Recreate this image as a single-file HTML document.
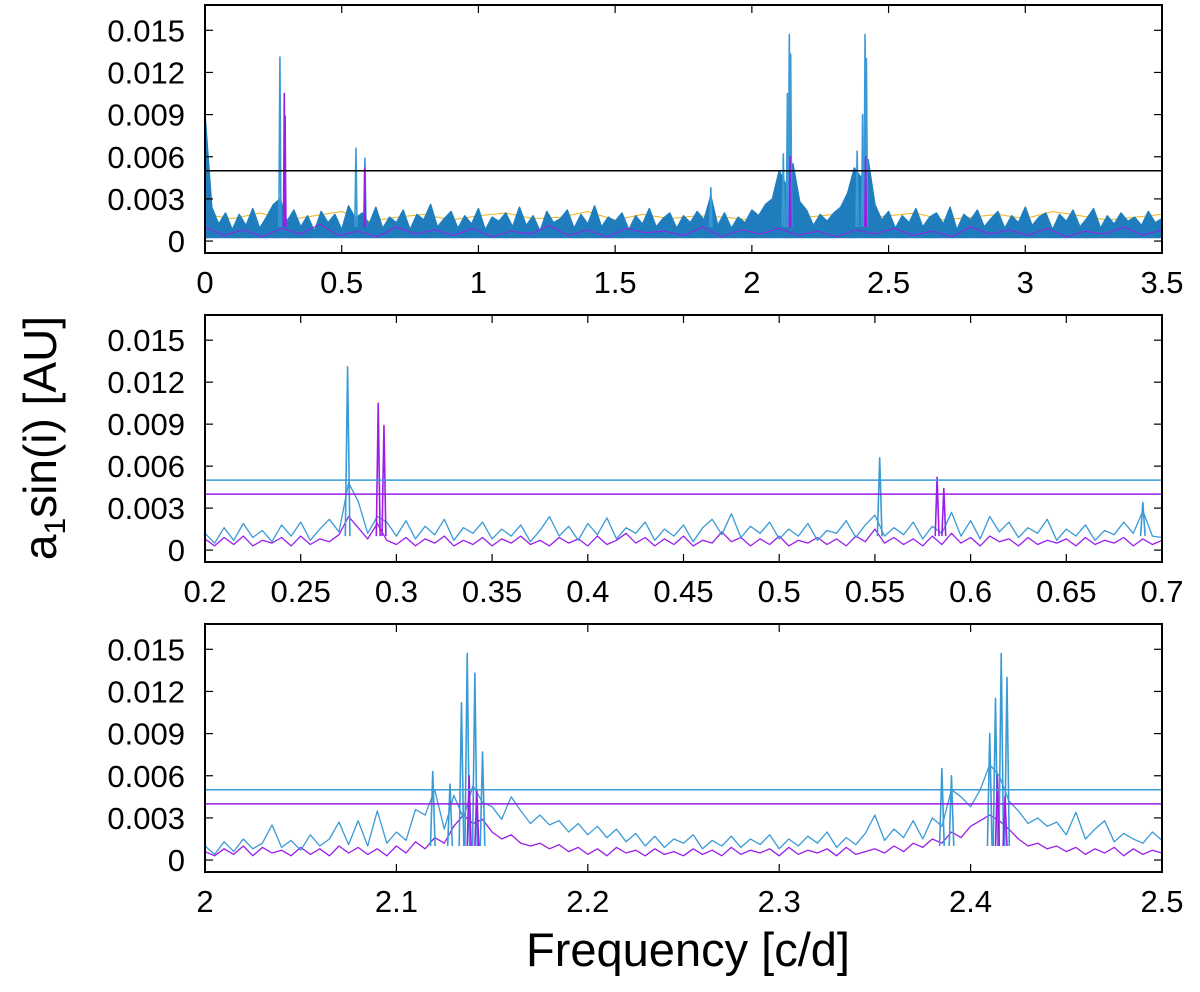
<!DOCTYPE html>
<html><head><meta charset="utf-8">
<style>
html,body{margin:0;padding:0;background:#fff;}
svg{display:block;font-family:"Liberation Sans",sans-serif;}
</style></head>
<body>
<svg id="chart" width="1200" height="992" viewBox="0 0 1200 992" xmlns="http://www.w3.org/2000/svg">
<text transform="translate(56,438) rotate(-90)" text-anchor="middle" font-size="46">a<tspan font-size="30" dy="9">1</tspan><tspan dy="-9">sin(i) [AU]</tspan></text>
<text x="688" y="966" text-anchor="middle" font-size="47">Frequency [c/d]</text>
</svg>
<script>
// y values in units of 1e-3 AU
const yTickValues=[0,3,6,9,12,15];
const yTickLabels=["0","0.003","0.006","0.009","0.012","0.015"];

// Panel 1 (0 - 3.5)
const p1TickValues=[0,0.5,1,1.5,2,2.5,3,3.5];
const p1TickLabels=["0","0.5","1","1.5","2","2.5","3","3.5"];
const p1Threshold=[5.0];
const p1BlueNoise=[9.0,2.4,1.2,2.0,0.8,1.9,1.1,2.3,0.9,1.7,2.6,3.0,1.4,2.2,1.0,1.8,0.7,2.1,1.3,1.9,0.8,2.5,1.6,2.0,1.2,2.4,0.9,1.7,1.3,2.2,0.8,1.9,1.5,2.6,1.0,1.6,2.1,0.9,1.8,1.2,2.3,0.8,1.7,1.4,2.0,1.0,2.4,1.1,1.8,0.7,2.1,1.3,1.6,2.2,0.9,1.9,1.2,2.5,1.0,1.7,1.4,2.0,0.8,1.8,1.2,2.3,1.0,1.6,2.0,0.9,1.8,1.3,2.1,1.5,3.2,1.1,2.0,0.9,1.7,1.3,2.2,1.8,2.6,3.0,5.0,4.0,5.5,2.8,2.2,1.1,1.9,1.4,2.0,2.4,3.4,5.2,4.5,5.8,2.6,1.5,2.1,0.9,1.8,1.3,2.3,1.0,1.7,2.0,1.2,2.4,0.8,1.9,1.5,2.2,1.0,1.6,2.1,0.9,1.8,1.3,2.4,1.1,1.7,2.0,0.8,1.9,1.4,2.2,1.0,1.6,2.3,0.9,1.8,1.2,2.0,1.4,1.7,1.1,2.1,1.3,1.6];
const p1OrangeNoise=[1.9,1.6,2.0,1.5,1.8,2.1,1.4,1.7,1.9,1.5,1.8,2.0,1.6,1.7,2.1,1.5,1.9,1.6,1.8,1.7,1.5,2.0,1.7,1.9,1.6,1.8,2.0,1.5,1.7,1.9,1.6,2.1,1.8,1.5,1.7,1.9];
const p1PurpleNoise=[1.0,0.4,0.8,0.3,0.9,0.5,1.2,0.4,0.7,0.3,1.0,0.5,0.8,0.4,0.9,0.3,0.7,0.5,1.1,0.4,0.8,0.3,0.9,0.6,0.7,0.4,1.0,0.3,0.8,0.5,0.9,0.4,0.7,0.3,0.8,0.5,0.9,0.4,0.7,0.3,1.0,0.5,0.8,0.4,0.9,0.3,0.7,0.5,1.0,0.4,0.8];
const p1BluePeakFreq=[0.274,0.552,0.585,1.85,2.115,2.13,2.137,2.142,2.385,2.405,2.414,2.419];
const p1BluePeakAmp=[13.1,6.6,5.9,3.8,6.2,10.5,14.7,13.3,6.4,9.0,14.7,13.0];
const p1PurplePeakFreq=[0.29,0.293,0.584,2.14,2.416];
const p1PurplePeakAmp=[10.5,8.9,5.2,6.0,6.0];

// Panel 2 (0.2 - 0.7)
const p2TickValues=[0.2,0.25,0.3,0.35,0.4,0.45,0.5,0.55,0.6,0.65,0.7];
const p2TickLabels=["0.2","0.25","0.3","0.35","0.4","0.45","0.5","0.55","0.6","0.65","0.7"];
const p2Thresholds=[5.0,4.0];
const p2BlueNoise=[1.2,0.5,1.6,0.7,1.9,0.9,1.4,0.6,1.8,1.0,2.0,0.7,1.5,2.2,1.3,4.8,3.5,1.2,2.4,2.0,1.0,2.1,0.8,1.7,1.1,2.2,0.7,1.6,1.2,2.0,0.8,1.5,1.0,1.8,0.6,1.4,2.4,1.0,1.7,0.7,1.9,1.1,2.3,0.8,1.6,1.2,2.0,0.7,1.5,1.0,1.8,0.6,1.6,2.2,1.1,2.6,0.9,1.7,1.2,2.0,0.8,1.5,1.0,1.9,0.7,1.4,1.2,2.1,0.9,1.8,2.5,1.0,1.6,1.1,2.0,0.8,1.7,1.2,2.7,1.0,2.1,0.8,2.4,1.3,2.0,0.9,1.6,1.2,2.2,0.7,1.5,1.0,1.8,0.7,1.4,1.1,2.0,1.2,2.8,1.0,0.9];
const p2PurpleNoise=[0.8,0.3,0.9,0.4,1.0,0.3,0.7,0.5,0.9,0.3,1.0,0.4,0.8,0.6,1.1,2.4,1.6,0.8,1.9,0.7,0.4,0.9,0.3,0.8,0.5,1.0,0.3,0.7,0.4,0.9,0.3,0.8,0.5,1.0,0.4,0.7,0.3,0.9,0.5,0.8,0.3,1.0,0.4,0.7,1.2,0.5,0.9,0.3,0.8,0.4,1.0,0.3,0.7,0.5,1.3,0.6,0.9,0.3,0.8,0.4,1.0,0.3,0.7,0.5,0.9,0.4,0.8,0.3,1.0,0.6,1.5,0.5,0.9,0.4,0.8,0.3,1.0,0.4,1.2,0.5,0.9,0.3,1.0,0.6,0.8,0.3,0.9,0.4,0.7,0.5,0.8,0.3,0.9,0.4,0.7,0.5,0.9,0.3,0.8,0.4,0.7];
const p2BluePeakFreq=[0.2745,0.5525,0.69];
const p2BluePeakAmp=[13.1,6.6,3.4];
const p2PurplePeakFreq=[0.2905,0.2935,0.5825,0.586];
const p2PurplePeakAmp=[10.5,8.9,5.2,4.4];

// Panel 3 (2.0 - 2.5)
const p3TickValues=[2.0,2.1,2.2,2.3,2.4,2.5];
const p3TickLabels=["2","2.1","2.2","2.3","2.4","2.5"];
const p3Thresholds=[5.0,4.0];
const p3BlueNoise=[1.0,0.4,1.3,0.6,1.5,0.8,1.2,2.5,0.9,1.4,
0.7,1.8,1.0,1.5,2.7,1.1,2.8,1.0,3.5,1.2,
2.0,1.4,3.6,3.2,5.0,2.2,4.6,3.0,5.3,4.1,
3.8,2.9,4.5,3.5,2.6,3.2,2.5,2.8,2.0,2.6,
1.8,2.4,1.6,2.2,1.3,1.9,1.0,1.7,0.9,1.5,
1.2,1.8,0.8,1.4,1.0,1.7,0.9,1.5,1.1,1.8,
0.8,1.5,1.0,1.7,1.2,2.0,0.9,1.6,1.1,1.9,
3.2,1.4,2.2,1.6,2.8,1.5,3.0,2.4,5.0,4.5,
3.8,5.0,6.8,6.0,4.2,3.5,2.6,3.0,2.4,2.7,
1.8,3.4,1.5,2.2,2.8,1.3,1.9,1.5,1.2,2.0,
1.4];
const p3PurpleNoise=[0.6,0.3,0.8,0.4,1.0,0.3,0.9,0.5,0.7,0.3,
0.9,0.4,0.8,0.3,1.0,0.5,0.9,0.4,0.8,0.3,
1.0,0.5,1.3,0.8,1.6,1.2,2.4,3.2,2.6,2.9,
2.0,1.5,1.8,1.2,1.0,1.2,0.8,1.1,0.6,0.9,
0.4,0.8,0.3,0.9,0.5,0.7,0.3,0.8,0.4,0.6,
0.3,0.8,0.4,0.7,0.3,0.9,0.4,0.7,0.5,0.8,
0.3,0.9,0.4,0.7,0.5,0.8,0.3,0.9,0.4,0.6,
0.8,0.5,1.0,0.6,1.2,0.9,1.5,1.2,2.0,1.6,
2.4,2.8,3.2,2.8,2.2,1.5,1.0,1.2,0.8,1.0,
0.6,0.9,0.4,0.8,0.5,0.9,0.3,0.8,0.4,0.7,
0.5];
const p3BluePeakFreq=[2.119,2.128,2.134,2.137,2.141,2.145,2.385,2.39,2.41,2.413,2.416,2.419];
const p3BluePeakAmp=[6.3,5.4,11.2,14.7,13.3,7.7,6.5,6.0,9.0,11.5,14.7,13.0];
const p3PurplePeakFreq=[2.138,2.142,2.414,2.418];
const p3PurplePeakAmp=[6.0,5.0,6.0,4.5];

const NS='http://www.w3.org/2000/svg';
const svg=document.getElementById('chart');
const BLUE='#1e7fbf', LBLUE='#3a9ad6', PURPLE='#9a1ee6', ORANGE='#f2b11a';
const YMIN=-0.85, YMAX=16.8;
function el(tag,attrs,parent){const e=document.createElementNS(NS,tag);for(const k in attrs)e.setAttribute(k,attrs[k]);(parent||svg).appendChild(e);return e;}

function panel(name,top,bottom,xmin,xmax,xt,xl,cfg){
  const L=205,R=1162;
  const g=el('g',{});
  
  
  const xs=v=>L+(v-xmin)/(xmax-xmin)*(R-L);
  const ys=v=>bottom-(v-YMIN)/(YMAX-YMIN)*(bottom-top);
  const clipId='clip-'+name;
  const cp=el('clipPath',{id:clipId},g);el('rect',{x:L,y:top,width:R-L,height:bottom-top},cp);
  const plot=el('g',{'clip-path':'url(#'+clipId+')'},g);
  
  
  function noise(arr,color,sw,fill,nm){
    const pts=arr.map((v,i)=>xs(xmin+i*(xmax-xmin)/(arr.length-1)).toFixed(1)+','+ys(v).toFixed(1));
    if(fill){const p=el('polygon',{points:xs(xmin)+','+ys(0.2)+' '+pts.join(' ')+' '+xs(xmax)+','+ys(0.2),fill:fill,stroke:'none'},plot);
      
      }
    const pl=el('polyline',{points:pts.join(' '),fill:'none',stroke:color,'stroke-width':sw,'stroke-linejoin':'round'},plot);
    
    
  }
  function peaks(fr,am,color,hw,nm){
    fr.forEach((f,i)=>{
      const p=el('polyline',{points:xs(f-hw)+','+ys(1.0)+' '+xs(f)+','+ys(am[i])+' '+xs(f+hw)+','+ys(1.0),fill:'none',stroke:color,'stroke-width':1.6,'stroke-linejoin':'round'},plot);
      
      
    });
  }
  cfg(noise,peaks,xs,ys,plot);
  const fr=el('rect',{x:L,y:top,width:R-L,height:bottom-top,fill:'none',stroke:'#000','stroke-width':2},g);
  
  
  yTickValues.forEach((v,i)=>{
    const y=ys(v);
    el('line',{x1:L,x2:L+8,y1:y,y2:y,stroke:'#000','stroke-width':1.2},g);
    el('line',{x1:R-8,x2:R,y1:y,y2:y,stroke:'#000','stroke-width':1.2},g);
    const t=el('text',{x:185,y:y+11,'text-anchor':'end','font-size':31},g);t.textContent=yTickLabels[i];
    
    
  });
  xt.forEach((v,i)=>{
    const x=xs(v);
    el('line',{x1:x,x2:x,y1:bottom,y2:bottom-8,stroke:'#000','stroke-width':1.2},g);
    el('line',{x1:x,x2:x,y1:top,y2:top+8,stroke:'#000','stroke-width':1.2},g);
    const t=el('text',{x:x,y:bottom+40,'text-anchor':'middle','font-size':31},g);t.textContent=xl[i];
    
    
  });
}

panel('panel-full-range',5,253,0,3.5,p1TickValues,p1TickLabels,(noise,peaks,xs,ys,plot)=>{
  noise(p1OrangeNoise,ORANGE,1,null,'orange-noise');
  noise(p1BlueNoise,BLUE,1.5,'#1f7dbd','blue-noise');
  noise(p1PurpleNoise,PURPLE,1,null,'purple-noise');
  peaks(p1BluePeakFreq,p1BluePeakAmp,LBLUE,0.004,'blue-peak');
  peaks(p1PurplePeakFreq,p1PurplePeakAmp,PURPLE,0.003,'purple-peak');
  const l=el('line',{x1:205,x2:1162,y1:ys(p1Threshold[0]),y2:ys(p1Threshold[0]),stroke:'#000','stroke-width':1.5},plot);
  
  
});
function zoomPanel(noiseB,noiseP,bf,ba,pf,pa,th){
  return (noise,peaks,xs,ys,plot)=>{
    noise(noiseP,PURPLE,1.3,null,'purple-noise');
    noise(noiseB,LBLUE,1.3,null,'blue-noise');
    peaks(bf,ba,LBLUE,0.0012,'blue-peak');
    peaks(pf,pa,PURPLE,0.0010,'purple-peak');
    const l1=el('line',{x1:205,x2:1162,y1:ys(th[0]),y2:ys(th[0]),stroke:LBLUE,'stroke-width':1.5},plot);
    
    
    const l2=el('line',{x1:205,x2:1162,y1:ys(th[1]),y2:ys(th[1]),stroke:PURPLE,'stroke-width':1.5},plot);
    
    
  };
}
panel('panel-low-freq',315,562,0.2,0.7,p2TickValues,p2TickLabels,zoomPanel(p2BlueNoise,p2PurpleNoise,p2BluePeakFreq,p2BluePeakAmp,p2PurplePeakFreq,p2PurplePeakAmp,p2Thresholds));
panel('panel-high-freq',624,872,2.0,2.5,p3TickValues,p3TickLabels,zoomPanel(p3BlueNoise,p3PurpleNoise,p3BluePeakFreq,p3BluePeakAmp,p3PurplePeakFreq,p3PurplePeakAmp,p3Thresholds));
</script>
</body></html>
